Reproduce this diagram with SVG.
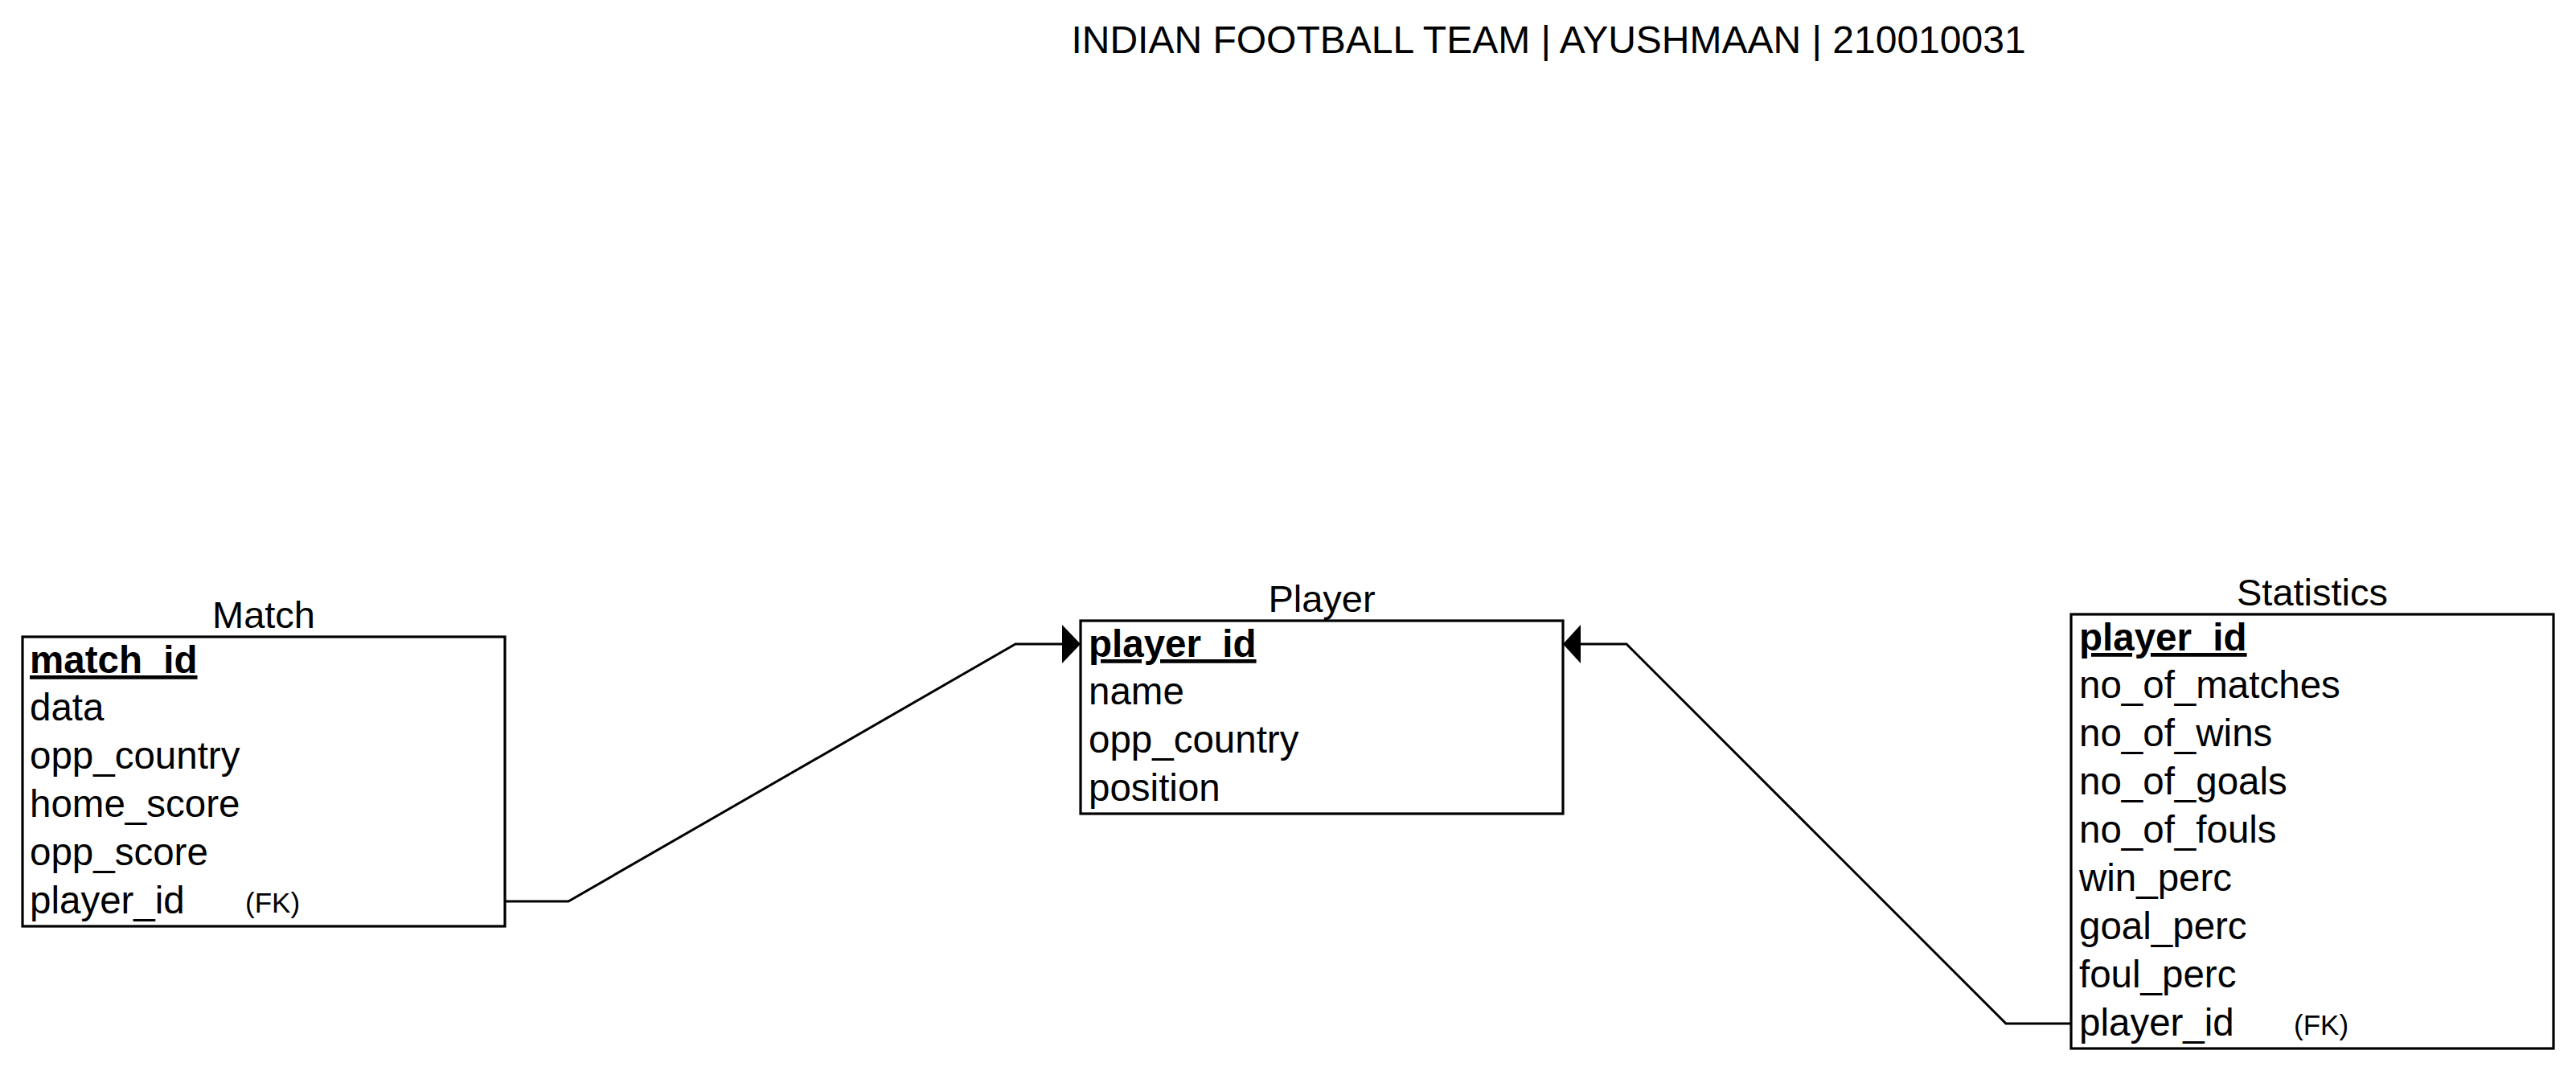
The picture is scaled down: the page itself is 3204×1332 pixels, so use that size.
<svg xmlns="http://www.w3.org/2000/svg" width="3204" height="1332" viewBox="0 0 3204 1332">
<style>
text{font-family:"Liberation Sans",Arial,Helvetica,sans-serif;fill:#000}
.title{font-size:48px;text-anchor:middle}
.ename{font-size:47px;text-anchor:middle}
.attr{font-size:47.5px}
.pk{font-size:47.5px;font-weight:bold;text-decoration:underline}
.fk{font-size:35px}
.box{fill:#fff;stroke:#000;stroke-width:3.2}
.conn{fill:none;stroke:#000;stroke-width:3;stroke-linejoin:miter}
.arrow{fill:#000;stroke:none}
</style>
<rect width="3204" height="1332" fill="#fff"/>
<text class="title" x="1926" y="66">INDIAN FOOTBALL TEAM | AYUSHMAAN | 210010031</text>

<g id="connectors">
  <polyline class="conn" points="629,1121 707,1121 1263,801 1322,801"/>
  <polygon class="arrow" points="1321,777 1344,801 1321,825"/>
  <polyline class="conn" points="2576,1273 2495,1273 2023,801 1965,801"/>
  <polygon class="arrow" points="1966,777 1944,801 1966,825"/>
</g>

<g id="match">
  <text class="ename" x="328" y="781">Match</text>
  <rect class="box" x="28" y="792" width="600" height="360"/>
  <text class="pk" x="37" y="837">match_id</text>
  <text class="attr" x="37" y="896">data</text>
  <text class="attr" x="37" y="956">opp_country</text>
  <text class="attr" x="37" y="1016">home_score</text>
  <text class="attr" x="37" y="1076">opp_score</text>
  <text class="attr" x="37" y="1136">player_id</text>
  <text class="fk" x="305" y="1135">(FK)</text>
</g>

<g id="player">
  <text class="ename" x="1644" y="761">Player</text>
  <rect class="box" x="1344" y="772" width="600" height="240"/>
  <text class="pk" x="1354" y="817">player_id</text>
  <text class="attr" x="1354" y="876">name</text>
  <text class="attr" x="1354" y="936">opp_country</text>
  <text class="attr" x="1354" y="996">position</text>
</g>

<g id="statistics">
  <text class="ename" x="2876" y="753">Statistics</text>
  <rect class="box" x="2576" y="764" width="600" height="540"/>
  <text class="pk" x="2586" y="809">player_id</text>
  <text class="attr" x="2586" y="868">no_of_matches</text>
  <text class="attr" x="2586" y="928">no_of_wins</text>
  <text class="attr" x="2586" y="988">no_of_goals</text>
  <text class="attr" x="2586" y="1048">no_of_fouls</text>
  <text class="attr" x="2586" y="1108">win_perc</text>
  <text class="attr" x="2586" y="1168">goal_perc</text>
  <text class="attr" x="2586" y="1228">foul_perc</text>
  <text class="attr" x="2586" y="1288">player_id</text>
  <text class="fk" x="2853" y="1287">(FK)</text>
</g>
</svg>
